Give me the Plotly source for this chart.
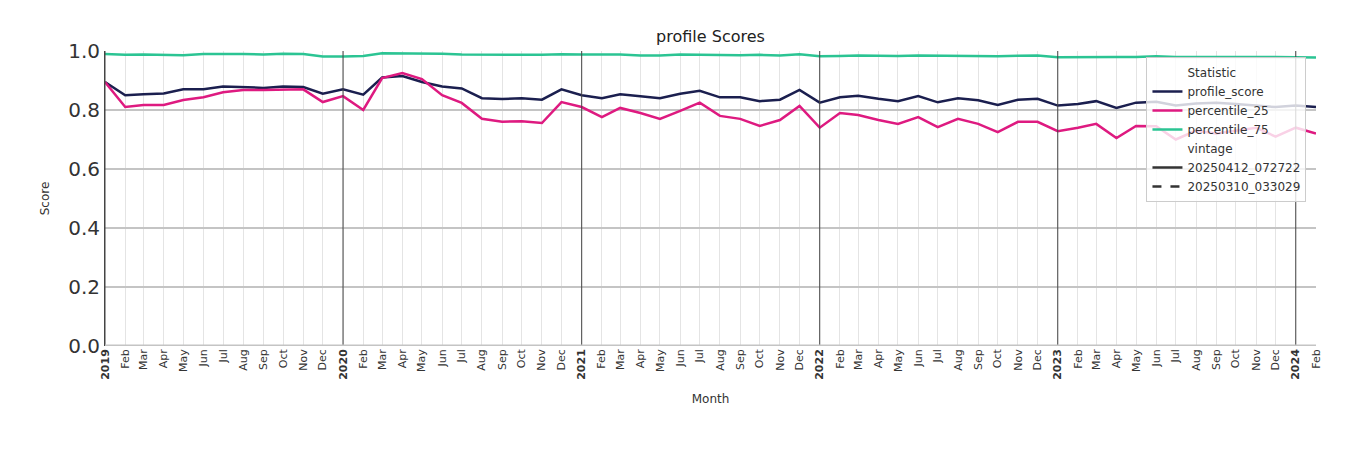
import plotly.graph_objects as go
import pandas as pd

months = pd.date_range("2019-01-01", "2024-02-01", freq="MS")
profile_score = [0.895,0.85,0.853,0.856,0.87,0.87,0.88,0.878,0.875,0.88,0.878,0.855,
                 0.87,0.852,0.91,0.915,0.895,0.88,0.873,0.84,0.837,0.84,0.835,0.87,
                 0.85,0.84,0.853,0.847,0.84,0.855,0.865,0.843,0.843,0.83,0.835,0.868,
                 0.825,0.843,0.848,0.838,0.83,0.847,0.826,0.84,0.833,0.817,0.835,0.838,
                 0.815,0.82,0.83,0.807,0.825,0.828,0.815,0.822,0.825,0.82,0.815,0.81,
                 0.815,0.81]
percentile_25 = [0.895,0.81,0.817,0.817,0.834,0.843,0.86,0.868,0.868,0.868,0.87,0.827,
                 0.847,0.8,0.908,0.925,0.905,0.85,0.824,0.77,0.76,0.762,0.756,0.827,
                 0.81,0.776,0.807,0.79,0.77,0.797,0.825,0.78,0.77,0.746,0.766,0.814,
                 0.74,0.79,0.783,0.766,0.753,0.776,0.742,0.77,0.753,0.725,0.76,0.76,
                 0.728,0.74,0.753,0.705,0.746,0.745,0.7,0.73,0.72,0.73,0.74,0.71,
                 0.74,0.72]
percentile_75 = [0.99,0.987,0.988,0.988,0.986,0.99,0.991,0.99,0.988,0.991,0.99,0.981,
                 0.981,0.983,0.992,0.992,0.99,0.991,0.988,0.987,0.986,0.987,0.987,0.989,
                 0.988,0.988,0.988,0.985,0.985,0.988,0.987,0.987,0.986,0.987,0.985,0.989,
                 0.982,0.983,0.985,0.984,0.983,0.985,0.984,0.985,0.983,0.982,0.984,0.985,
                 0.979,0.98,0.981,0.98,0.98,0.982,0.98,0.981,0.98,0.98,0.981,0.98,
                 0.979,0.978]
series = [("profile_score", profile_score, "#1b1f4f"),
          ("percentile_25", percentile_25, "#de1a80"),
          ("percentile_75", percentile_75, "#2bc493")]
vintages = ["20250412_072722", "20250310_033029"]

fig = go.Figure()
fig.add_trace(go.Scatter(x=[None], y=[None], mode="lines", name="Statistic",
                         line=dict(color="rgba(0,0,0,0)"), showlegend=True))
for name, vals, col in series:
    fig.add_trace(go.Scatter(x=months, y=vals, mode="lines", name=name,
                             line=dict(color=col, width=2.5)))
fig.add_trace(go.Scatter(x=[None], y=[None], mode="lines", name="vintage",
                         line=dict(color="rgba(0,0,0,0)")))
fig.add_trace(go.Scatter(x=[None], y=[None], mode="lines", name=vintages[0],
                         line=dict(color="#333", width=2.5)))
fig.add_trace(go.Scatter(x=[None], y=[None], mode="lines", name=vintages[1],
                         line=dict(color="#333", width=2.5, dash="dash")))

ticktext = [f"<b>{d.year}</b>" if d.month == 1 else d.strftime("%b") for d in months]
for d in months:
    if d.month == 1:
        fig.add_vline(x=d, line=dict(color="#444", width=1))

fig.update_layout(
    width=1350, height=450, plot_bgcolor="white", paper_bgcolor="white",
    margin=dict(l=97, r=42, t=43, b=112),
    font=dict(family="DejaVu Sans", color="#333"),
    title=dict(text="profile Scores", x=0.5, xref="paper", y=0.95, xanchor="center",
               font=dict(size=16, color="#222")),
    legend=dict(x=0.86, y=0.98, xanchor="left", yanchor="top",
                bgcolor="rgba(255,255,255,0.8)", bordercolor="#ccc", borderwidth=1,
                font=dict(size=12, color="#333")),
    xaxis=dict(type="date", title=dict(text="Month", font=dict(size=12)), tickvals=months,
               ticktext=ticktext, tickangle=-90, tickfont=dict(size=11),
               range=[months[0], months[-1]],
               showgrid=True, gridcolor="#e4e4e4", gridwidth=1, showline=False,
               zeroline=False),
    yaxis=dict(title=dict(text="Score", font=dict(size=12)), range=[0, 1.0], dtick=0.2,
               tickformat=".1f", tickfont=dict(size=20), showgrid=True,
               gridcolor="#c4c4c4", gridwidth=1.5, zeroline=False,
               showline=True, linecolor="#444", linewidth=1),
)
fig.add_hline(y=0, line=dict(color="#c4c4c4", width=3))
fig.write_html("out.html")
